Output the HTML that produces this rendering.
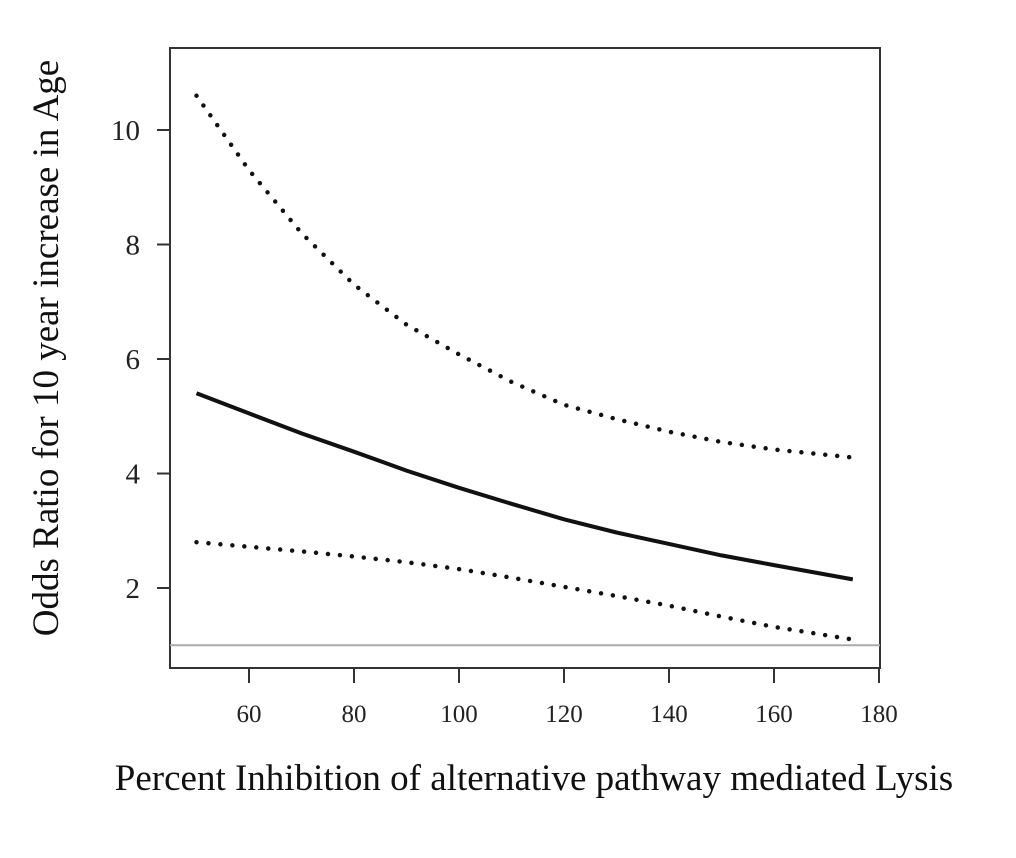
<!DOCTYPE html>
<html><head><meta charset="utf-8"><style>
body{margin:0;background:#fff;}
svg{display:block;font-family:"Liberation Serif",serif;}
</style></head><body>
<svg id="chart" width="1016" height="858">
<rect x="170" y="48" width="710" height="620" fill="none" stroke="#333" stroke-width="2"/>
<g id="axes"></g>
<g id="series"></g>
<text x="58" y="348" transform="rotate(-90 58 348)" text-anchor="middle" font-size="37" fill="#111">Odds Ratio for 10 year increase in Age</text>
<text x="534" y="790" text-anchor="middle" font-size="37" fill="#111">Percent Inhibition of alternative pathway mediated Lysis</text>
</svg>
<script>
const xs=[50,60,70,80,90,100,110,120,130,140,150,160,175];
const mid=[5.4,5.05,4.7,4.38,4.05,3.75,3.47,3.2,2.97,2.77,2.57,2.4,2.15];
const upper=[10.6,9.3,8.2,7.3,6.6,6.08,5.6,5.2,4.95,4.73,4.55,4.42,4.28];
const lower=[2.8,2.72,2.64,2.55,2.45,2.33,2.18,2.02,1.86,1.69,1.5,1.32,1.1];
const xTicks=[60,80,100,120,140,160,180];
const yTicks=[2,4,6,8,10];
const refLine=1;
const NS="http://www.w3.org/2000/svg";
const X=v=>249+(v-60)*5.25;
const Y=v=>588-(v-2)*57.25;
function mk(t,a,p){const e=document.createElementNS(NS,t);for(const k in a)e.setAttribute(k,a[k]);p.appendChild(e);return e;}
const ax=document.getElementById('axes'),se=document.getElementById('series');
xTicks.forEach(v=>{
 const l=mk('line',{x1:X(v),x2:X(v),y1:668,y2:683,stroke:'#333','stroke-width':2},ax);
 
 
 const t=mk('text',{x:X(v),y:722,'text-anchor':'middle','font-size':25,fill:'#222'},ax);t.textContent=v;
 
 
});
yTicks.forEach(v=>{
 const l=mk('line',{x1:157,x2:170,y1:Y(v),y2:Y(v),stroke:'#333','stroke-width':2},ax);
 
 
 const t=mk('text',{x:140,y:Y(v)+10,'text-anchor':'end','font-size':29,fill:'#222'},ax);t.textContent=v;
 
 
});
const r=mk('line',{x1:170,x2:880,y1:Y(refLine),y2:Y(refLine),stroke:'#aaa','stroke-width':2},se);


function path(arr){return arr.map((v,i)=>(i?'L':'M')+X(xs[i]).toFixed(1)+','+Y(v).toFixed(1)).join(' ');}
const m=mk('path',{d:path(mid),fill:'none',stroke:'#111','stroke-width':4},se);


const u=mk('path',{d:path(upper),fill:'none',stroke:'#111','stroke-width':4.5,'stroke-dasharray':'0 12','stroke-linecap':'round'},se);


const lo=mk('path',{d:path(lower),fill:'none',stroke:'#111','stroke-width':4.5,'stroke-dasharray':'0 12','stroke-linecap':'round'},se);


</script>
</body></html>
